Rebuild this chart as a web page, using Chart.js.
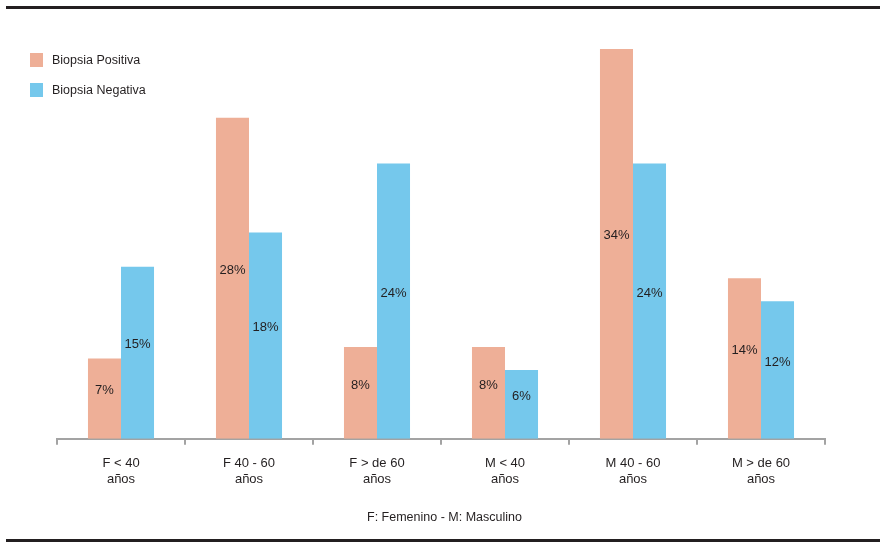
<!DOCTYPE html>
<html>
<head>
<meta charset="utf-8">
<script src="https://cdn.jsdelivr.net/npm/chart.js@4"></script>
<style>
    html, body { margin: 0; padding: 0; background: #fff; }
    #wrap { position: relative; width: 889px; height: 548px; overflow: hidden; }
    #chart { position: absolute; left: 0; top: 0; }
    .rule { position: absolute; left: 6px; width: 874px; height: 3px; background: #231f20; }
    .legend { position: absolute; left: 30px; font-family: "Liberation Sans Narrow", "Arial Narrow", "Liberation Sans", sans-serif; font-size: 12.5px; color: #231f20; }
    .legend span.box { display: inline-block; width: 13px; height: 14px; vertical-align: middle; margin-right: 9px; }
    .legend span.txt { vertical-align: middle; }
    #note { position: absolute; left: 0; width: 889px; top: 510px; text-align: center; font-family: "Liberation Sans Narrow", "Arial Narrow", "Liberation Sans", sans-serif; font-size: 12.5px; color: #231f20; }
</style>
</head>
<body>
<div id="wrap">
    <div class="rule" style="top:6px"></div>
    <canvas id="chart" width="889" height="548"></canvas>
    <div id="legend"></div>
    <div id="note">F: Femenino - M: Masculino</div>
    <div class="rule" style="top:539px"></div>
</div>
<script>
    // Data (percent)
    const categories = [
        ['F < 40', 'años'],
        ['F 40 - 60', 'años'],
        ['F > de 60', 'años'],
        ['M < 40', 'años'],
        ['M 40 - 60', 'años'],
        ['M > de 60', 'años']
    ];
    const seriesNames = ['Biopsia Positiva', 'Biopsia Negativa'];
    const positiva = [7, 28, 8, 8, 34, 14];
    const negativa = [15, 18, 24, 6, 24, 12];

    const colors = {
        positiva: '#eeaf97',
        negativa: '#75c8ec',
        text: '#231f20',
        axis: '#a3a3a3'
    };
    const fontFamily = '"Liberation Sans Narrow", "Arial Narrow", "Liberation Sans", sans-serif';

    // Custom legend (vertical, top-left)
    const legendEl = document.getElementById('legend');
    [colors.positiva, colors.negativa].forEach(function(c, i) {
        const d = document.createElement('div');
        d.className = 'legend';
        d.style.top = (52 + i * 30) + 'px';
        d.innerHTML = '<span class="box" style="background:' + c + '"></span><span class="txt">' + seriesNames[i] + '</span>';
        legendEl.appendChild(d);
    });

    // Value labels a little above the middle of each bar
    const barLabels = {
        id: 'barLabels',
        afterDatasetsDraw: function(chart) {
            const ctx = chart.ctx;
            ctx.save();
            ctx.font = '13px ' + fontFamily;
            ctx.fillStyle = colors.text;
            ctx.textAlign = 'center';
            ctx.textBaseline = 'middle';
            chart.data.datasets.forEach(function(ds, di) {
                chart.getDatasetMeta(di).data.forEach(function(bar, i) {
                    const y = (bar.y + bar.base) / 2 - 8;
                    ctx.fillText(ds.data[i] + '%', bar.x, y);
                });
            });
            ctx.restore();
        }
    };

    new Chart(document.getElementById('chart'), {
        type: 'bar',
        data: {
            labels: categories,
            datasets: [
                { label: seriesNames[0], data: positiva, backgroundColor: colors.positiva },
                { label: seriesNames[1], data: negativa, backgroundColor: colors.negativa }
            ]
        },
        options: {
            responsive: false,
            animation: false,
            events: [],
            layout: { padding: { left: 57, right: 64, top: 37.5, bottom: 50 } },
            datasets: {
                bar: { barPercentage: 1, categoryPercentage: 0.516, borderWidth: 0 }
            },
            scales: {
                x: {
                    grid: {
                        offset: true,
                        drawOnChartArea: false,
                        drawTicks: true,
                        tickLength: 6,
                        color: colors.axis,
                        lineWidth: 2
                    },
                    border: { display: true, color: colors.axis, width: 2 },
                    ticks: {
                        color: colors.text,
                        padding: 11,
                        font: { family: fontFamily, size: 13, lineHeight: 1.2 }
                    }
                },
                y: {
                    display: false,
                    min: 0,
                    max: 35
                }
            },
            plugins: {
                legend: { display: false },
                tooltip: { enabled: false }
            }
        },
        plugins: [barLabels]
    });
</script>
</body>
</html>
